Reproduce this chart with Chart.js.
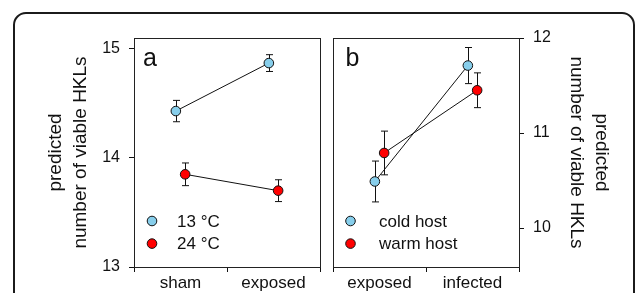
<!DOCTYPE html>
<html><head><meta charset="utf-8">
<script src="https://cdn.jsdelivr.net/npm/chart.js@4.4.1/dist/chart.umd.min.js"></script>
<style>
html,body{margin:0;padding:0;background:#fff;overflow:hidden;width:635px;height:293px;}
#frame{position:absolute;left:13px;top:12px;width:622px;height:340px;border:2px solid #1b1b1b;border-radius:13px;box-sizing:border-box;}
canvas{position:absolute;top:0;}
#ca{left:0;} #cb{left:326px;}
</style></head><body>
<div id="frame"></div>
<canvas id="ca" width="326" height="293"></canvas>
<canvas id="cb" width="309" height="293"></canvas>
<script>
// ---- data ----
const categoriesA = ['sham', 'exposed'];
const labelsA = ['13 °C', '24 °C'];
const valuesA13 = [14.43, 14.87];
const errorsA13 = [0.098, 0.077];
const valuesA24 = [13.85, 13.70];
const errorsA24 = [0.104, 0.10];
const yTicksA = [13, 14, 15];

const categoriesB = ['exposed', 'infected'];
const labelsB = ['cold host', 'warm host'];
const valuesBCold = [10.49, 11.71];
const errorsBCold = [0.215, 0.19];
const valuesBWarm = [10.79, 11.45];
const errorsBWarm = [0.23, 0.183];
const yTicksB = [10, 11, 12];

const yTitle = ['predicted', 'number of viable HKLs'];

// ---- styling ----
const FONT = "'Liberation Sans', Arial, Helvetica, sans-serif";
const INK = '#111';
const BLUE = '#87CEEB';
const RED = '#FF0000';
const DODGE = 0.05;

const decor = {
  id: 'decor',
  beforeDatasetsDraw(chart, args, o) {
    const {ctx, scales: {x, y}} = chart;
    ctx.save();
    ctx.strokeStyle = INK; ctx.lineWidth = 1;
    chart.data.datasets.forEach(ds => {
      ds.data.forEach((p, j) => {
        const e = ds.errorBars[j];
        const px = Math.round(x.getPixelForValue(p.x)) + 0.5;
        const t = y.getPixelForValue(p.y + e), b = y.getPixelForValue(p.y - e);
        ctx.beginPath();
        ctx.moveTo(px, t); ctx.lineTo(px, b);
        ctx.moveTo(px - 3.5, t); ctx.lineTo(px + 3.5, t);
        ctx.moveTo(px - 3.5, b); ctx.lineTo(px + 3.5, b);
        ctx.stroke();
      });
    });
    ctx.restore();
  },
  afterDraw(chart, args, o) {
    const {ctx, chartArea: ca} = chart;
    ctx.save();
    ctx.strokeStyle = '#222'; ctx.lineWidth = 1;
    ctx.strokeRect(Math.round(ca.left) + 0.5, Math.round(ca.top) + 0.5,
                   Math.round(ca.right) - Math.round(ca.left), Math.round(ca.bottom) - Math.round(ca.top));
    // panel letter
    ctx.fillStyle = INK;
    ctx.font = '25px ' + FONT;
    ctx.textBaseline = 'alphabetic'; ctx.textAlign = 'left';
    ctx.fillText(o.letter, ca.left + o.letterX, ca.top + 28);
    // legend
    ctx.font = '17px ' + FONT;
    ctx.textBaseline = 'middle';
    chart.data.datasets.forEach((ds, i) => {
      const yy = ca.bottom - 46 + i * 22.6;
      ctx.beginPath();
      ctx.arc(ca.left + o.markX, yy, 4.8, 0, Math.PI * 2);
      ctx.fillStyle = ds.pointBackgroundColor; ctx.fill();
      ctx.strokeStyle = INK; ctx.lineWidth = 1; ctx.stroke();
      ctx.fillStyle = INK;
      ctx.fillText(ds.label, ca.left + o.textX, yy + 1);
    });
    ctx.restore();
  }
};

function ds(label, vals, errs, color, dodge) {
  return {
    label, errorBars: errs,
    data: vals.map((v, i) => ({x: i + 0.5 + dodge, y: v})),
    showLine: true, borderColor: INK, borderWidth: 1,
    pointRadius: 4.8, pointHoverRadius: 4.8,
    pointBackgroundColor: color, pointBorderColor: INK, pointBorderWidth: 1
  };
}

function xScale(cats, height) {
  return {
    type: 'linear', position: 'bottom', min: 0, max: 2,
    afterBuildTicks: s => { s.ticks = [0, 0.5, 1, 1.5, 2].map(v => ({value: v})); },
    afterFit: s => { s.height = height; },
    ticks: {
      autoSkip: false, maxRotation: 0, minRotation: 0, padding: 1, color: INK,
      font: {family: FONT, size: 17},
      callback: v => (v === 0.5 ? cats[0] : v === 1.5 ? cats[1] : '')
    },
    grid: {drawOnChartArea: false, tickLength: 5,
      tickColor: c => (Number.isInteger(c.tick && c.tick.value) ? INK : 'rgba(0,0,0,0)')},
    border: {display: false}
  };
}

function yScale(pos, min, max, ticksList, width, titlePad) {
  return {
    type: 'linear', position: pos, min, max,
    afterBuildTicks: s => { s.ticks = ticksList.map(v => ({value: v})); },
    afterFit: s => { s.width = width; },
    ticks: {padding: 9, color: INK, font: {family: FONT, size: 16}},
    grid: {drawOnChartArea: false, tickLength: 5, tickColor: INK},
    border: {display: false},
    title: {display: true, text: yTitle, color: INK,
      font: {family: FONT, size: 19, lineHeight: 1.33}, padding: {top: titlePad, bottom: 0}}
  };
}

const common = {
  responsive: false, animation: false, devicePixelRatio: 1,
  plugins: {legend: {display: false}, tooltip: {enabled: false}}
};

new Chart(document.getElementById('ca'), {
  type: 'scatter',
  data: {datasets: [
    ds(labelsA[0], valuesA13, errorsA13, BLUE, -DODGE),
    ds(labelsA[1], valuesA24, errorsA24, RED, DODGE)
  ]},
  options: Object.assign({}, common, {
    layout: {padding: {left: 0, right: 6, top: 38, bottom: 0}},
    scales: {x: xScale(categoriesA, 26), y: yScale('left', 13, 15.1, yTicksA, 134, 43)},
    plugins: Object.assign({}, common.plugins, {decor: {letter: 'a', letterX: 9, markX: 18, textX: 43}})
  }),
  plugins: [decor]
});

new Chart(document.getElementById('cb'), {
  type: 'scatter',
  data: {datasets: [
    ds(labelsB[0], valuesBCold, errorsBCold, BLUE, -DODGE),
    ds(labelsB[1], valuesBWarm, errorsBWarm, RED, DODGE)
  ]},
  options: Object.assign({}, common, {
    layout: {padding: {left: 7, right: 0, top: 38, bottom: 0}},
    scales: {x: xScale(categoriesB, 26), y: yScale('right', 9.59, 12, yTicksB, 116, 21)},
    plugins: Object.assign({}, common.plugins, {decor: {letter: 'b', letterX: 12.5, markX: 17.5, textX: 46}})
  }),
  plugins: [decor]
});
</script>
</body></html>
